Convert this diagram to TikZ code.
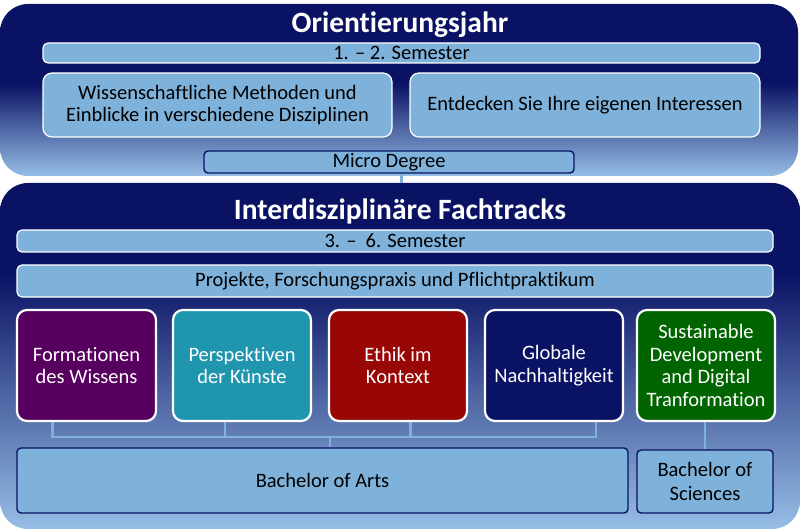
\documentclass[tikz,border=0pt]{standalone}
\usepackage{fontspec}
\setmainfont[Ligatures=NoCommon]{Carlito}
\usetikzlibrary{calc}
\definecolor{navy}{RGB}{10,18,100}
\definecolor{lightpanel}{RGB}{150,190,230}
\definecolor{barblue}{RGB}{127,178,218}
\definecolor{cpurple}{RGB}{88,0,96}
\definecolor{cteal}{RGB}{32,150,174}
\definecolor{cred}{RGB}{152,6,6}
\definecolor{cnavy}{RGB}{10,18,100}
\definecolor{cgreen}{RGB}{0,100,0}
\pgfdeclareverticalshading{topshade}{100bp}{color(0bp)=(lightpanel); color(25bp)=(lightpanel); color(52bp)=(navy); color(100bp)=(navy)}
\pgfdeclareverticalshading{botshade}{100bp}{color(0bp)=(lightpanel); color(25bp)=(lightpanel); color(62bp)=(navy); color(100bp)=(navy)}
\tikzset{
  panel/.style={rectangle, inner sep=0pt, draw=none},
  bar/.style={rectangle, rounded corners=5pt, fill=barblue, draw=white, line width=1.2pt, inner sep=0pt, font=\fontsize{20.5}{22.5}\selectfont, text=black},
  degree/.style={rectangle, rounded corners=4pt, fill=barblue, draw=navy, line width=1.4pt, inner sep=0pt, font=\fontsize{20.5}{23.5}\selectfont, text=black, align=center},
  track/.style={rectangle, rounded corners=10pt, draw=white, line width=2.2pt, inner sep=0pt, minimum width=138pt, minimum height=111pt, text=white, align=center, font=\fontsize{20.5}{22.7}\selectfont},
  title/.style={text=white, font=\fontsize{29.5}{32}\selectfont\bfseries},
  conn/.style={draw=barblue, line width=2.5pt}
}
\begin{document}
\begin{tikzpicture}[x=1pt,y=-1pt]
\useasboundingbox (0,0) rectangle (800,529);
% panels
\path[shading=topshade, rounded corners=28pt] (0,4) rectangle (798,176);
\node[panel, minimum width=798pt, minimum height=172pt] (p1) at (399,90) {};
\path[shading=botshade, rounded corners=28pt] (0,183) rectangle (800,529);
\node[panel, minimum width=800pt, minimum height=346pt] (p2) at (400,356) {};
\node[title] (t1) at (400,25) {Orientierungsjahr};
\node[title] (t2) at (400,211) {Interdisziplinäre Fachtracks};
% top content
\node[bar, minimum width=717pt, minimum height=20pt] (s1) at (401.5,53) {1. – 2. Semester};
\node[bar, rounded corners=9pt, minimum width=349pt, minimum height=64pt, align=center] (a) at (217.5,105) {Wissenschaftliche Methoden und\\Einblicke in verschiedene Disziplinen};
\node[bar, rounded corners=9pt, minimum width=350pt, minimum height=64pt] (b) at (585,105) {Entdecken Sie Ihre eigenen Interessen};
\node[degree, minimum width=370pt, minimum height=22pt] (md) at (389,162) {Micro Degree};
\draw[conn] (md.south -| s1.north) -- (p2.north -| s1.north);
% bottom content
\node[bar, minimum width=756pt, minimum height=22pt] (s2) at (395,241) {3. –\ \ 6. Semester};
\node[bar, minimum width=756pt, minimum height=32pt] (pr) at (395,281) {Projekte, Forschungspraxis und Pflichtpraktikum};
\node[track, fill=cpurple, minimum width=139pt] (k1) at (86.5,365.5) {Formationen\\des Wissens};
\node[track, fill=cteal] (k2) at (242,365.5) {Perspektiven\\der Künste};
\node[track, fill=cred] (k3) at (398,365.5) {Ethik im\\Kontext};
\node[track, fill=cnavy] (k4) at (554,365.5) {Globale\\Nachhaltigkeit};
\node[track, fill=cgreen] (k5) at (706,365.5) {Sustainable\\Development\\and Digital\\Tranformation};
\node[degree, minimum width=611pt, minimum height=65pt] (ba) at (322.5,480.5) {Bachelor of Arts};
\node[degree, minimum width=136pt, minimum height=63pt] (bs) at (705,481.5) {Bachelor of\\Sciences};
% connectors
\coordinate (j) at (330,437);
\draw[conn] ($(k1.south west)!0.26!(k1.south east)$) |- (j);
\draw[conn] ($(k2.south west)!0.38!(k2.south east)$) |- (j);
\draw[conn] ($(k3.south west)!0.59!(k3.south east)$) |- (j);
\draw[conn] ($(k4.south west)!0.80!(k4.south east)$) |- (j);
\draw[conn] (j) -- (j |- ba.north);
\draw[conn] (k5.south -| bs.north) -- (bs.north);
\end{tikzpicture}
\end{document}
